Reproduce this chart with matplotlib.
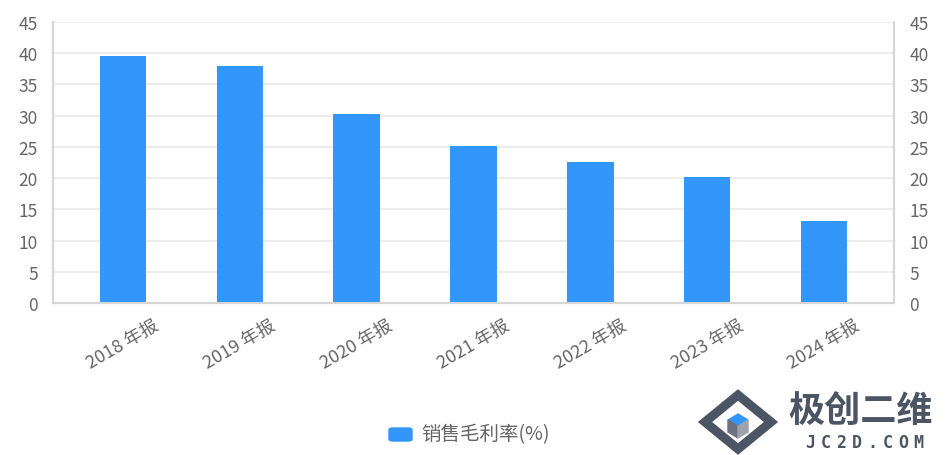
import matplotlib.pyplot as plt
import numpy as np
from matplotlib.patches import Polygon, FancyBboxPatch

plt.rcParams['font.family'] = ['Noto Sans CJK SC', 'DejaVu Sans']

years = ['2018 年报', '2019 年报', '2020 年报', '2021 年报', '2022 年报', '2023 年报', '2024 年报']
margin = [39.6, 37.9, 30.3, 25.2, 22.6, 20.2, 13.2]
yticks = [0, 5, 10, 15, 20, 25, 30, 35, 40, 45]

W, H = 946, 456
fig = plt.figure(figsize=(W / 100, H / 100), dpi=100)
ax = fig.add_axes([53 / W, 1 - 304 / H, (894 - 53) / W, (304 - 23) / H])

x = np.arange(len(years))
ax.bar(x, margin, width=0.4, color='#3296fa', zorder=3)

ax.set_xlim(-0.6, len(years) - 0.4)
ax.set_ylim(0, 45)
ax.set_yticks(yticks)
ax.yaxis.grid(True, color='#ebebeb', lw=1.3, zorder=0)
ax.tick_params(axis='y', length=0, labelsize=12.5, labelcolor='#666666', pad=11)
ax.set_xticks(x)
ax.set_xticklabels(years, rotation=30, ha='center', fontsize=13, color='#666666')
ax.tick_params(axis='x', length=0, pad=9)

ax2 = ax.twinx()
ax2.set_ylim(0, 45)
ax2.set_yticks(yticks)
ax2.tick_params(axis='y', length=0, labelsize=12.5, labelcolor='#666666', pad=11)

for a in (ax, ax2):
    a.spines['top'].set_visible(False)
    for s in ('left', 'right', 'bottom'):
        a.spines[s].set_color('#d6d6d6')
        a.spines[s].set_linewidth(1.5)

# legend
fig.patches.append(FancyBboxPatch((389 / W, 1 - 442 / H), 23 / W, 13 / H,
                                  boxstyle='round,pad=0,rounding_size=0.004',
                                  transform=fig.transFigure, color='#3296fa'))
fig.text(421 / W, 1 - 435 / H, '销售毛利率(%)', ha='left', va='center',
         fontsize=14, color='#666666')

# watermark logo
cx, cy = 738 / W, 1 - 423 / H
dx, dy = 33 / W, 27 / H
outer = [(cx - dx, cy), (cx, cy + dy), (cx + dx, cy), (cx, cy - dy)]
fig.patches.append(Polygon(outer, closed=True, transform=fig.transFigure,
                           fill=False, edgecolor='#4b5563', lw=6.5))
fig.patches.append(Polygon([(cx - 10 / W, cy + 2 / H), (cx, cy + 8 / H), (cx + 10 / W, cy + 2 / H),
                            (cx, cy - 4 / H)], transform=fig.transFigure, color='#3296fa'))
fig.patches.append(Polygon([(cx - 10 / W, cy + 2 / H), (cx, cy - 4 / H), (cx, cy - 16 / H),
                            (cx - 10 / W, cy - 10 / H)], transform=fig.transFigure, color='#6b7280'))
fig.patches.append(Polygon([(cx + 10 / W, cy + 2 / H), (cx, cy - 4 / H), (cx, cy - 16 / H),
                            (cx + 10 / W, cy - 10 / H)], transform=fig.transFigure, color='#9ca3af'))
fig.text(861 / W, 1 - 411 / H, '极创二维', ha='center', va='center', fontsize=26,
         fontweight='bold', color='#4b5563')
for i, ch in enumerate('JC2D.COM'):
    fig.text((810 + i * 15.5) / W, 1 - 443 / H, ch, ha='center', va='center', fontsize=12,
             fontweight='bold', color='#4b5563', family='DejaVu Sans Mono')

fig.savefig('out.png', dpi=100)
